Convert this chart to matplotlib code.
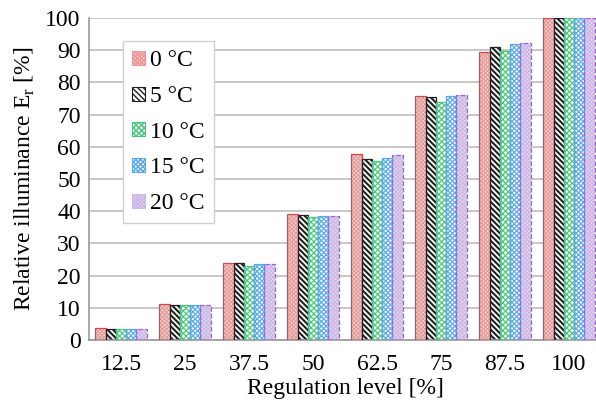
import numpy as np
import matplotlib
matplotlib.use("Agg")
import matplotlib.pyplot as plt
from matplotlib.patches import Patch

plt.rcParams['font.family'] = ['Liberation Serif', 'DejaVu Serif']

levels = ['12.5', '25', '37.5', '50', '62.5', '75', '87.5', '100']
temps = ['0 °C', '5 °C', '10 °C', '15 °C', '20 °C']

er_0 = [3.7, 11.3, 23.8, 39.0, 57.7, 75.8, 89.5, 100]
er_5 = [3.3, 10.9, 23.8, 38.8, 56.2, 75.4, 90.9, 100]
er_10 = [3.4, 10.9, 23.0, 38.3, 55.5, 74.0, 89.6, 100]
er_15 = [3.4, 10.9, 23.6, 38.4, 56.5, 75.8, 91.8, 100]
er_20 = [3.4, 10.9, 23.5, 38.4, 57.6, 76.1, 92.1, 100]
series = [er_0, er_5, er_10, er_15, er_20]

# face, hatch colour, hatch, hatch width, edge colour, edge style
styles = [
    ('#f6d0d0', '#e89a9a', 'xxxxxxxx', 0.8, '#d04848', '-'),
    ('white', '#202020', '\\\\\\\\\\\\', 1.5, '#202020', '-'),
    ('#f2fbf5', '#4cc37e', 'xxxxxx', 0.8, '#4cc37e', '-'),
    ('#f2f8fd', '#5aa8e6', 'xxxxxxx', 0.8, '#5aa8e6', '-'),
    ('#e2d6ef', '#cdb8e4', 'xxxxxxxx', 0.8, '#9a66cc', '--'),
]

fig = plt.figure(figsize=(5.96, 4.08), dpi=100)
ax = fig.add_axes([89 / 596, 1 - 340 / 408, 512 / 596, 322 / 408])

x = np.arange(len(levels))
w = 0.16
handles = []
for i, (vals, st) in enumerate(zip(series, styles)):
    face, hcol, hatch, hlw, ecol, ls = st
    pos = x + (i - 2) * w
    with plt.rc_context({'hatch.linewidth': hlw}):
        ax.bar(pos, vals, w, facecolor=face, edgecolor=hcol, hatch=hatch,
               linewidth=0, zorder=2)
        handles.append(Patch(facecolor=face, edgecolor=hcol, hatch=hatch,
                             linewidth=0.8))
    ax.bar(pos, vals, w, fill=False, edgecolor=ecol, linewidth=0.9,
           linestyle=ls, zorder=3)

ax.set_xlim(-0.5, len(levels) - 0.5)
ax.set_ylim(0, 100)
ax.set_yticks(range(0, 101, 10))
ax.set_xticks(x)
ax.set_xticklabels(levels)
ax.yaxis.grid(True, color='#c4c4c4', linewidth=1.3, zorder=0)
ax.set_axisbelow(True)
for s in ['top', 'right']:
    ax.spines[s].set_visible(False)
for s in ['left', 'bottom']:
    ax.spines[s].set_color('#9a9a9a')
    ax.spines[s].set_linewidth(1.2)
ax.tick_params(axis='both', length=0, labelsize=17)
ax.tick_params(axis='x', pad=10)
ax.tick_params(axis='y', pad=6)

ax.set_xlabel('Regulation level [%]', fontsize=17, labelpad=2)
ax.set_ylabel('Relative illuminance E$_\\mathregular{r}$ [%]', fontsize=17, labelpad=6)

leg = ax.legend(handles, temps, loc='upper left', bbox_to_anchor=(34 / 512, 299 / 322),
                fontsize=17, frameon=True, fancybox=False, framealpha=1,
                edgecolor='#d0d0d0', handlelength=0.55, handleheight=0.55,
                handletextpad=0.2, labelspacing=0.62, borderpad=0.4,
                borderaxespad=0)
leg.get_frame().set_linewidth(1.0)

fig.savefig('out.png', dpi=100)
